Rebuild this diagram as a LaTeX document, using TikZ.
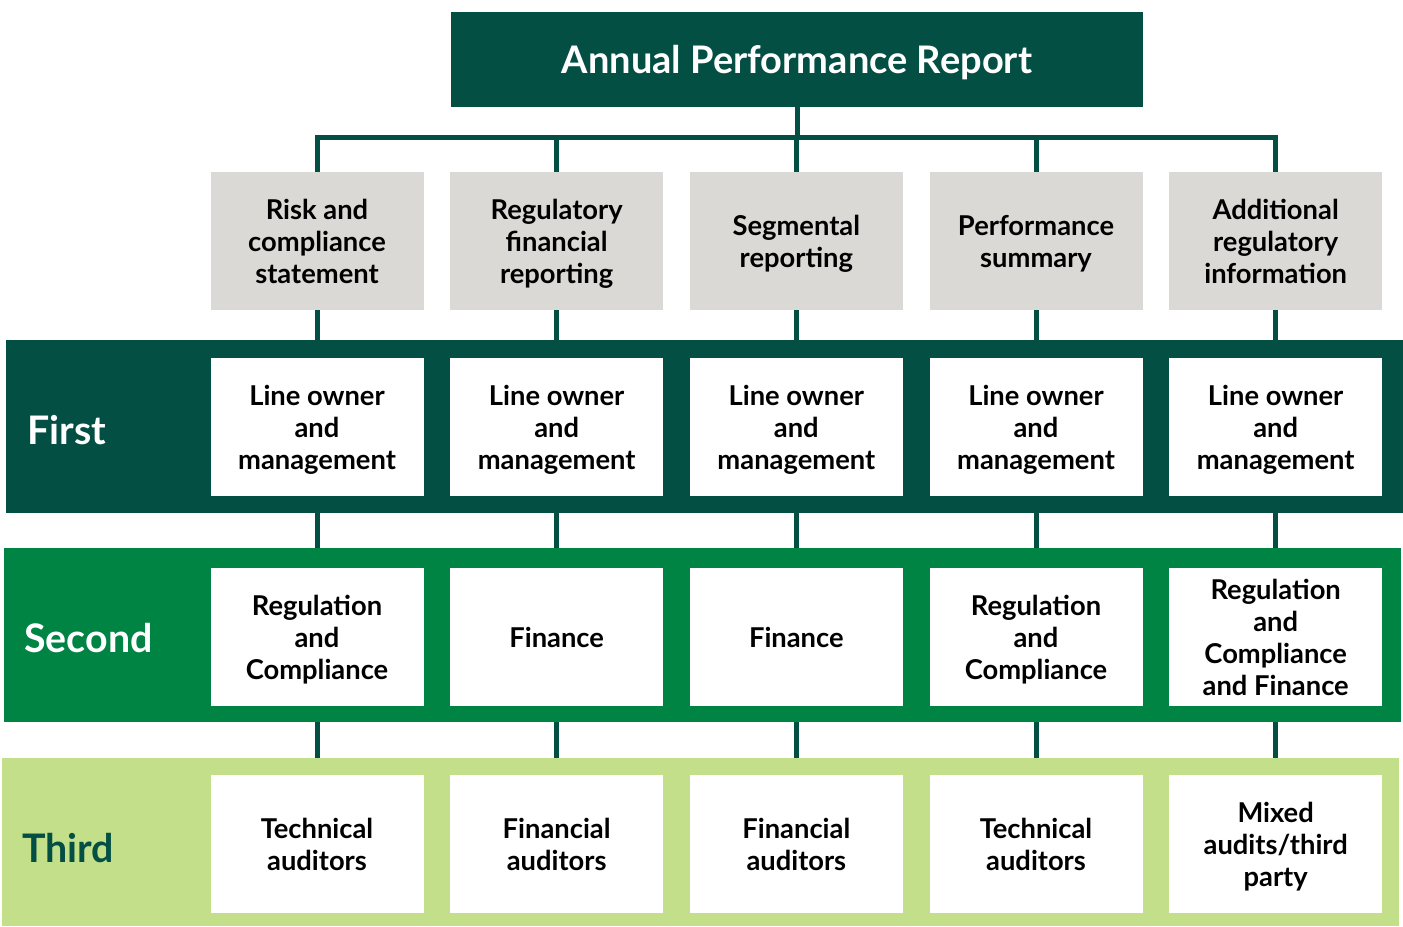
\documentclass[tikz,border=0pt]{standalone}
\usepackage{fontspec}
\setmainfont{Lato}
\usetikzlibrary{positioning,backgrounds}
\definecolor{deep}{RGB}{3,79,67}
\definecolor{mid}{RGB}{0,132,68}
\definecolor{pale}{RGB}{196,223,138}
\definecolor{stone}{RGB}{218,217,213}

\begin{document}
\begin{tikzpicture}[x=0.75pt, y=-0.75pt,
  cell/.style={minimum width=159.75pt, minimum height=103.5pt, align=center, inner sep=2pt, text depth=0pt, font=\bfseries\fontsize{20.5}{24}\selectfont},
  topic/.style={cell, fill=stone},
  owner/.style={cell, fill=white},
  tier/.style={anchor=west, inner sep=0pt, font=\bfseries\fontsize{29.5}{34}\selectfont},
  link/.style={draw=deep, line width=3.75pt, line join=miter},
  node distance=19.6pt,
]
  \useasboundingbox (0,0) rectangle (1403,926);

  \node[fill=deep, text=white, minimum width=519pt, minimum height=71.25pt, text depth=0pt, font=\bfseries\fontsize{28.5}{32}\selectfont] (report) at (797,59.5) {Annual Performance Report};
  \coordinate (bus) at (797,137);

  % report sections
  \node[topic] (risk) at (317,241) {Risk and\\ compliance\\ statement};
  \node[topic, right=of risk] (regfin) {Regulatory\\ financial\\ reporting};
  \node[topic, right=of regfin] (segment) {Segmental\\ reporting};
  \node[topic, right=of segment] (perf) {Performance\\ summary};
  \node[topic, right=of perf] (addreg) {Additional\\ regulatory\\ information};

  % first line
  \node[owner] (first1) at (317,427) {Line owner\\ and\\ management};
  \node[owner, right=of first1] (first2) {Line owner\\ and\\ management};
  \node[owner, right=of first2] (first3) {Line owner\\ and\\ management};
  \node[owner, right=of first3] (first4) {Line owner\\ and\\ management};
  \node[owner, right=of first4] (first5) {Line owner\\ and\\ management};

  % second line
  \node[owner] (second1) at (317,637) {Regulation\\ and\\ Compliance};
  \node[owner, right=of second1] (second2) {Finance};
  \node[owner, right=of second2] (second3) {Finance};
  \node[owner, right=of second3] (second4) {Regulation\\ and\\ Compliance};
  \node[owner, right=of second4] (second5) {Regulation\\ and\\ Compliance\\ and Finance};

  % third line
  \node[owner] (third1) at (317,844) {Technical\\ auditors};
  \node[owner, right=of third1] (third2) {Financial\\ auditors};
  \node[owner, right=of third2] (third3) {Financial\\ auditors};
  \node[owner, right=of third3] (third4) {Technical\\ auditors};
  \node[owner, right=of third4] (third5) {Mixed\\ audits/third\\ party};

  \node[tier, text=white] (firstlbl) at (27,430) {First};
  \node[tier, text=white] (secondlbl) at (24,638) {Second};
  \node[tier, text=deep] (thirdlbl) at (22,848) {Third};

  \begin{scope}[on background layer]
    \draw[link] (report.south) -- (bus);
    \draw[link] (risk.north) |- (bus) -| (addreg.north);
    \draw[link] (regfin.north) -- (regfin.north |- bus);
    \draw[link] (segment.north) -- (segment.north |- bus);
    \draw[link] (perf.north) -- (perf.north |- bus);
    \draw[link] (risk.south) -- (first1.north) (first1.south) -- (second1.north) (second1.south) -- (third1.north);
    \draw[link] (regfin.south) -- (first2.north) (first2.south) -- (second2.north) (second2.south) -- (third2.north);
    \draw[link] (segment.south) -- (first3.north) (first3.south) -- (second3.north) (second3.south) -- (third3.north);
    \draw[link] (perf.south) -- (first4.north) (first4.south) -- (second4.north) (second4.south) -- (third4.north);
    \draw[link] (addreg.south) -- (first5.north) (first5.south) -- (second5.north) (second5.south) -- (third5.north);
    % the three bands
    \fill[deep] (6,340) rectangle (1403,513);
    \fill[mid] (4,548) rectangle (1401,722);
    \fill[pale] (2,758) rectangle (1399,926);
  \end{scope}
\end{tikzpicture}
\end{document}
